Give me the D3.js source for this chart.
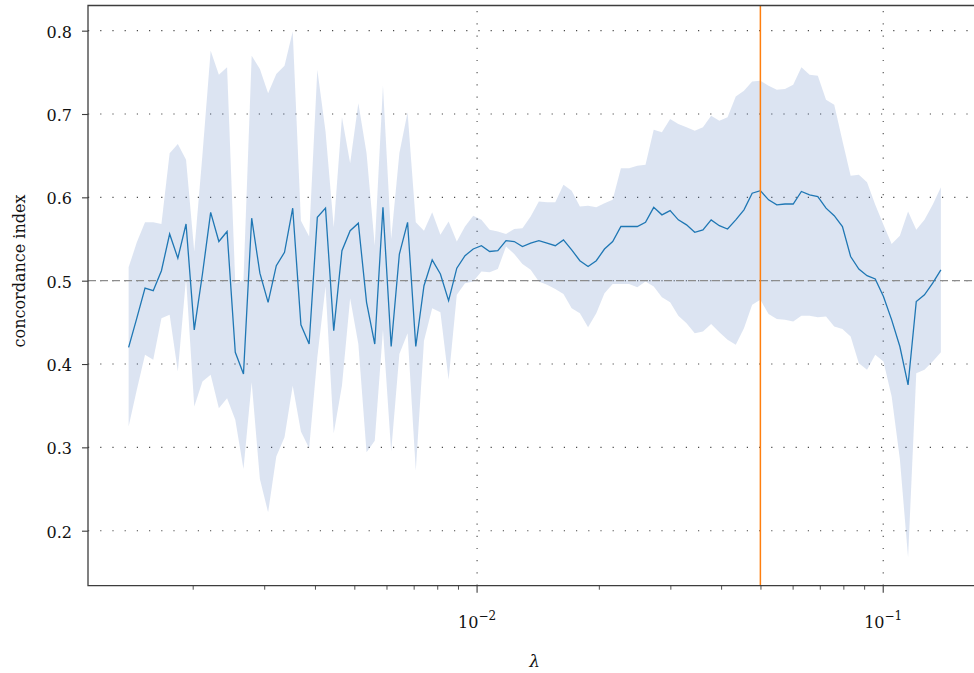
<!DOCTYPE html>
<html>
<head>
<meta charset="utf-8">
<script src="https://cdn.jsdelivr.net/npm/d3@7"></script>
<style>
  body { margin: 0; background: #fff; }
  svg { display: block; font-family: 'DejaVu Serif', serif; }
</style>
</head>
<body>
<div id="chart"></div>
<script>
// regularisation path: 100 lambdas, log-spaced over two decades
const lambdaStart = -2.858
const lambdaEnd = -0.858
const nLambda = 100
const lambdas = d3.range(nLambda).map(i => Math.pow(10, lambdaStart + (lambdaEnd - lambdaStart) * i / (nLambda - 1)))

// mean concordance index per lambda
const cindexMean = [
  0.420, 0.455, 0.491, 0.488, 0.512, 0.556, 0.527, 0.568, 0.441, 0.508,
  0.582, 0.547, 0.559, 0.414, 0.388, 0.575, 0.509, 0.474, 0.518, 0.534,
  0.587, 0.447, 0.424, 0.576, 0.587, 0.440, 0.536, 0.560, 0.569, 0.474,
  0.424, 0.588, 0.421, 0.532, 0.570, 0.421, 0.494, 0.525, 0.508, 0.476,
  0.515, 0.530, 0.538, 0.542, 0.535, 0.536, 0.548, 0.547, 0.541, 0.545,
  0.548, 0.545, 0.542, 0.549, 0.537, 0.524, 0.517, 0.524, 0.538, 0.547,
  0.565, 0.565, 0.565, 0.570, 0.588, 0.579, 0.584, 0.573, 0.567, 0.558,
  0.561, 0.573, 0.566, 0.562, 0.573, 0.585, 0.605, 0.608, 0.597, 0.591,
  0.592, 0.592, 0.607, 0.603, 0.601, 0.587, 0.578, 0.565, 0.529, 0.514,
  0.506, 0.502, 0.481, 0.453, 0.421, 0.375, 0.475, 0.483, 0.497, 0.513
]

// upper edge of the band
const cindexUpper = [
  0.516, 0.546, 0.570, 0.570, 0.568, 0.653, 0.664, 0.645, 0.535, 0.651,
  0.776, 0.747, 0.756, 0.497, 0.501, 0.770, 0.754, 0.725, 0.748, 0.758,
  0.799, 0.572, 0.553, 0.753, 0.679, 0.564, 0.696, 0.641, 0.713, 0.653,
  0.542, 0.734, 0.550, 0.653, 0.702, 0.570, 0.560, 0.582, 0.555, 0.571,
  0.547, 0.565, 0.578, 0.573, 0.561, 0.559, 0.556, 0.562, 0.563, 0.577,
  0.595, 0.594, 0.594, 0.615, 0.608, 0.589, 0.590, 0.588, 0.593, 0.597,
  0.635, 0.635, 0.638, 0.639, 0.681, 0.678, 0.694, 0.688, 0.684, 0.680,
  0.684, 0.698, 0.692, 0.696, 0.721, 0.728, 0.739, 0.740, 0.734, 0.729,
  0.730, 0.735, 0.756, 0.747, 0.746, 0.717, 0.711, 0.668, 0.626, 0.627,
  0.618, 0.591, 0.567, 0.544, 0.554, 0.583, 0.561, 0.573, 0.591, 0.612
]

// lower edge of the band
const cindexLower = [
  0.325, 0.369, 0.411, 0.405, 0.455, 0.459, 0.391, 0.503, 0.349, 0.379,
  0.387, 0.347, 0.359, 0.333, 0.274, 0.378, 0.262, 0.222, 0.289, 0.312,
  0.374, 0.319, 0.299, 0.408, 0.493, 0.317, 0.374, 0.479, 0.424, 0.294,
  0.308, 0.441, 0.295, 0.412, 0.437, 0.272, 0.428, 0.467, 0.462, 0.381,
  0.483, 0.497, 0.499, 0.511, 0.510, 0.514, 0.541, 0.532, 0.520, 0.513,
  0.499, 0.495, 0.490, 0.484, 0.467, 0.461, 0.444, 0.461, 0.485, 0.496,
  0.496, 0.496, 0.492, 0.499, 0.493, 0.480, 0.474, 0.458, 0.449, 0.437,
  0.439, 0.448, 0.438, 0.429, 0.423, 0.443, 0.471, 0.477, 0.460, 0.454,
  0.453, 0.451, 0.458, 0.458, 0.456, 0.457, 0.445, 0.442, 0.433, 0.401,
  0.393, 0.411, 0.403, 0.361, 0.286, 0.168, 0.389, 0.393, 0.403, 0.414
]

const yTicks = [0.2, 0.3, 0.4, 0.5, 0.6, 0.7, 0.8]
const xMajorTicks = [1e-2, 1e-1]
const xTickExponents = ['−2', '−1']
const chanceLevel = 0.5

const width = 974
const height = 673
const plotLeft = 88, plotRight = 981.5, plotTop = 5.5, plotBottom = 585.7
const axisColor = '#3d3d3d'

const data = lambdas.map((l, i) => ({ l, m: cindexMean[i], lo: cindexLower[i], hi: cindexUpper[i] }))
const bestLambda = lambdas[d3.maxIndex(cindexMean)]

const x = d3.scaleLog()
  .domain([Math.pow(10, lambdaStart - 0.1), Math.pow(10, lambdaEnd + 0.1)])
  .range([plotLeft, plotRight])
const y = d3.scaleLinear()
  .domain([0.134, 0.8302])
  .range([plotBottom, plotTop])

const svg = d3.select('#chart').append('svg')
  .attr('width', width)
  .attr('height', height)

// grid
const grid = svg.append('g')
  .attr('stroke', '#4a4a4a')
  .attr('stroke-width', 1.1)
  .attr('stroke-dasharray', '1.2,11')
grid.selectAll('line.h').data(yTicks).enter().append('line')
  .attr('x1', plotLeft).attr('x2', plotRight)
  .attr('y1', d => y(d)).attr('y2', d => y(d))
grid.selectAll('line.v').data(xMajorTicks).enter().append('line')
  .attr('x1', d => x(d)).attr('x2', d => x(d))
  .attr('y1', plotBottom).attr('y2', plotTop)

// band
svg.append('path')
  .datum(data)
  .attr('fill', '#4f78c0')
  .attr('fill-opacity', 0.2)
  .attr('d', d3.area()
    .x(d => x(d.l))
    .y0(d => y(d.lo))
    .y1(d => y(d.hi)))

// chance level
svg.append('line')
  .attr('x1', plotLeft).attr('x2', plotRight)
  .attr('y1', y(chanceLevel)).attr('y2', y(chanceLevel))
  .attr('stroke', '#8c8c8c')
  .attr('stroke-width', 1.2)
  .attr('stroke-dasharray', '8,4')

// mean line
svg.append('path')
  .datum(data)
  .attr('fill', 'none')
  .attr('stroke', '#1f77b4')
  .attr('stroke-width', 1.3)
  .attr('d', d3.line().x(d => x(d.l)).y(d => y(d.m)))

// selected lambda
svg.append('line')
  .attr('x1', x(bestLambda)).attr('x2', x(bestLambda))
  .attr('y1', plotTop).attr('y2', plotBottom)
  .attr('stroke', '#ff7f0e')
  .attr('stroke-width', 1.5)

// spines
svg.append('path')
  .attr('d', `M${plotRight},${plotTop}H${plotLeft}V${plotBottom}H${plotRight}`)
  .attr('stroke', axisColor)
  .attr('stroke-width', 1.3)
  .attr('fill', 'none')

// y axis
const yAxis = svg.append('g')
  .attr('transform', `translate(${plotLeft},0)`)
  .call(d3.axisLeft(y).tickValues(yTicks).tickSize(6).tickSizeOuter(0).tickPadding(10).tickFormat(d3.format('.1f')))
yAxis.select('.domain').remove()
yAxis.selectAll('.tick line').attr('stroke', axisColor).attr('stroke-width', 1.1)
yAxis.selectAll('.tick text')
  .attr('font-family', 'DejaVu Serif')
  .attr('font-size', 16)
  .attr('fill', '#111')
  .attr('dy', '0.4em')

// x axis, minor ticks
const xMinor = []
for (const dec of [1e-3, 1e-2, 1e-1]) {
  for (let k = 2; k <= 9; k++) {
    const v = k * dec
    if (v > x.domain()[0] && v < x.domain()[1]) xMinor.push(v)
  }
}
const xAxis = svg.append('g').attr('stroke', axisColor)
xAxis.selectAll('line.minor').data(xMinor).enter().append('line')
  .attr('x1', d => x(d)).attr('x2', d => x(d))
  .attr('y1', plotBottom).attr('y2', plotBottom + 4)
  .attr('stroke-width', 0.9)
xAxis.selectAll('line.major').data(xMajorTicks).enter().append('line')
  .attr('x1', d => x(d)).attr('x2', d => x(d))
  .attr('y1', plotBottom).attr('y2', plotBottom + 7)
  .attr('stroke-width', 1.1)

const xLabels = svg.append('g')
  .attr('font-family', 'DejaVu Serif')
  .attr('fill', '#111')
  .selectAll('text').data(xMajorTicks).enter().append('text')
  .attr('x', d => x(d))
  .attr('y', 628)
  .attr('text-anchor', 'middle')
  .attr('font-size', 16)
xLabels.append('tspan').text('10')
xLabels.append('tspan')
  .attr('font-size', 12)
  .attr('dy', -8)
  .text((d, i) => xTickExponents[i])

// axis titles
svg.append('text')
  .attr('transform', 'translate(25,271) rotate(-90)')
  .attr('text-anchor', 'middle')
  .attr('font-size', 16)
  .attr('fill', '#111')
  .text('concordance index')

svg.append('text')
  .attr('x', (plotLeft + plotRight) / 2)
  .attr('y', 667)
  .attr('text-anchor', 'middle')
  .attr('font-size', 17)
  .attr('font-style', 'italic')
  .attr('fill', '#111')
  .text('λ')
</script>
</body>
</html>
